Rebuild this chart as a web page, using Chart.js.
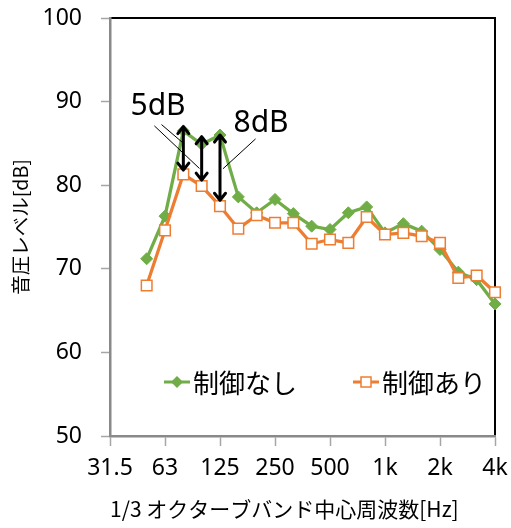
<!DOCTYPE html>
<html>
<head>
<meta charset="utf-8">
<script src="https://cdn.jsdelivr.net/npm/chart.js"></script>
<style>
  html, body { margin: 0; padding: 0; background: #fff; }
</style>
</head>
<body>
<canvas id="myChart" width="511" height="528"></canvas>
<script>
// 1/3 octave bands
const bands = ['31.5', '40', '50', '63', '80', '100', '125', '160', '200', '250', '315',
  '400', '500', '630', '800', '1k', '1.25k', '1.6k', '2k', '2.5k', '3.15k', '4k'];
const tickLabels = ['31.5', '63', '125', '250', '500', '1k', '2k', '4k'];
const yTicks = [50, 60, 70, 80, 90, 100];

// sound pressure level [dB]
const noControl = [null, null, 71.2, 76.3, 86.5, 84.9, 86.0, 78.6, 76.7, 78.3, 76.6,
  75.1, 74.7, 76.7, 77.4, 74.3, 75.4, 74.5, 72.3, 69.6, 68.7, 65.8];
const withControl = [null, null, 68.0, 74.6, 81.3, 79.9, 77.5, 74.8, 76.4, 75.5, 75.5,
  73.0, 73.5, 73.1, 76.2, 74.1, 74.3, 73.9, 73.1, 68.9, 69.2, 67.2];

// arrows between the two curves (band index, top dB, bottom dB)
const arrowIdx = [4, 5, 6];
const arrowTop = [87.0, 85.8, 86.0];
const arrowBottom = [81.8, 80.6, 78.2];

// notes: text, position [band index, dB at baseline]
const noteText = ['5dB', '8dB'];
const noteAt = [[2.62, 88.4], [8.24, 86.4]];
// leader lines [fromIdx, fromDb, toIdx, toDb]
const leaders = [
  [2.42, 87.1, 4.88, 82.0],
  [2.81, 87.25, 3.96, 85.1],
  [7.94, 85.54, 6.16, 81.96]
];

const green = '#70AD47';
const orange = '#ED7D31';

const ctx = document.getElementById('myChart');

// box frame, arrows, notes and legend
const extras = {
  id: 'extras',
  beforeDraw(chart) {
    const c = chart.ctx;
    const a = chart.chartArea;
    c.save();
    c.strokeStyle = '#000';
    c.lineWidth = 2;
    c.beginPath();
    c.moveTo(a.left, a.top);
    c.lineTo(a.right, a.top);
    c.lineTo(a.right, a.bottom);
    c.stroke();
    c.restore();
  },
  afterDatasetsDraw(chart) {
    const c = chart.ctx;
    const x = chart.scales.x;
    const y = chart.scales.y;
    const px = v => x.left + (x.right - x.left) * v / (bands.length - 1);
    c.save();
    // leader lines
    c.strokeStyle = '#000';
    c.lineWidth = 1;
    leaders.forEach(l => {
      c.beginPath();
      c.moveTo(px(l[0]), y.getPixelForValue(l[1]));
      c.lineTo(px(l[2]), y.getPixelForValue(l[3]));
      c.stroke();
    });
    // double arrows
    c.lineWidth = 3;
    c.lineCap = 'round';
    c.lineJoin = 'round';
    for (let i = 0; i < arrowIdx.length; i++) {
      const ax = x.getPixelForValue(arrowIdx[i]);
      const t = y.getPixelForValue(arrowTop[i]);
      const b = y.getPixelForValue(arrowBottom[i]);
      c.beginPath();
      c.moveTo(ax, t + 1);
      c.lineTo(ax, b - 1);
      c.moveTo(ax - 5.5, t + 7);
      c.lineTo(ax, t);
      c.lineTo(ax + 5.5, t + 7);
      c.moveTo(ax - 5.5, b - 7);
      c.lineTo(ax, b);
      c.lineTo(ax + 5.5, b - 7);
      c.stroke();
    }
    // notes
    c.fillStyle = '#000';
    c.font = '30px "Noto Sans"';
    c.textAlign = 'center';
    c.textBaseline = 'alphabetic';
    noteText.forEach((t, i) => {
      c.fillText(t, px(noteAt[i][0]), y.getPixelForValue(noteAt[i][1]));
    });
    c.restore();
  },
  afterDraw(chart) {
    const c = chart.ctx;
    const a = chart.chartArea;
    const ly = a.bottom - 54;
    const items = [
      { x: a.left + 54, ds: chart.data.datasets[0] },
      { x: a.left + 243, ds: chart.data.datasets[1] }
    ];
    c.save();
    c.font = '26px "Noto Sans CJK JP"';
    c.textBaseline = 'middle';
    c.textAlign = 'left';
    items.forEach(it => {
      const ds = it.ds;
      c.strokeStyle = ds.borderColor;
      c.lineWidth = 3;
      c.beginPath();
      c.moveTo(it.x, ly);
      c.lineTo(it.x + 26, ly);
      c.stroke();
      const mx = it.x + 13;
      if (ds.pointStyle === 'rectRot') {
        c.fillStyle = ds.pointBackgroundColor;
        c.beginPath();
        c.moveTo(mx - 6, ly);
        c.lineTo(mx, ly - 6);
        c.lineTo(mx + 6, ly);
        c.lineTo(mx, ly + 6);
        c.closePath();
        c.fill();
      } else {
        c.fillStyle = '#fff';
        c.lineWidth = 1.5;
        c.fillRect(mx - 5, ly - 5, 10, 10);
        c.strokeRect(mx - 5, ly - 5, 10, 10);
      }
      c.fillStyle = '#000';
      c.fillText(ds.label, it.x + 29, ly + 1);
    });
    c.restore();
  }
};

new Chart(ctx, {
  type: 'line',
  data: {
    labels: bands,
    datasets: [{
      label: '制御なし',
      data: noControl,
      borderColor: green,
      backgroundColor: green,
      borderWidth: 3.25,
      pointStyle: 'rectRot',
      pointRadius: 6,
      pointBackgroundColor: green,
      pointBorderColor: green,
      pointBorderWidth: 1,
      tension: 0,
      clip: false,
      order: 1
    }, {
      label: '制御あり',
      data: withControl,
      borderColor: orange,
      backgroundColor: '#fff',
      borderWidth: 3.25,
      pointStyle: 'rect',
      pointRadius: 7.5,
      pointBackgroundColor: '#fff',
      pointBorderColor: orange,
      pointBorderWidth: 1.5,
      tension: 0,
      clip: false,
      order: 0
    }]
  },
  options: {
    responsive: false,
    animation: false,
    layout: {
      padding: { left: 0, top: 18, right: 16, bottom: 0 }
    },
    plugins: {
      legend: { display: false },
      tooltip: { enabled: false }
    },
    scales: {
      x: {
        type: 'category',
        offset: false,
        afterFit: s => {
          s.height = 92;
          s.paddingLeft = 0;
          s.paddingRight = 0;
        },
        grid: {
          drawOnChartArea: false,
          drawTicks: true,
          tickLength: 10,
          tickWidth: 1.5,
          tickColor: c => (tickLabels.includes(bands[c.index]) ? '#a6a6a6' : 'rgba(0,0,0,0)')
        },
        border: { color: '#898989', width: 2.5 },
        ticks: {
          autoSkip: false,
          maxRotation: 0,
          padding: 9,
          color: '#000',
          font: { family: 'Noto Sans', size: 23 },
          callback: (v, i) => (tickLabels.includes(bands[i]) ? bands[i] : '')
        },
        title: {
          display: true,
          text: '1/3 オクターブバンド中心周波数[Hz]',
          align: 'start',
          color: '#000',
          font: { family: 'Noto Sans CJK JP', size: 21 },
          padding: { top: 0, bottom: 6 }
        }
      },
      y: {
        min: 50,
        max: 100,
        afterFit: s => {
          s.width = 110;
          s.paddingTop = 0;
          s.paddingBottom = 0;
        },
        afterBuildTicks: s => { s.ticks = yTicks.map(v => ({ value: v })); },
        grid: {
          drawOnChartArea: false,
          drawTicks: true,
          tickLength: 9,
          tickWidth: 1.5,
          tickColor: '#a6a6a6'
        },
        border: { color: '#898989', width: 2.5 },
        ticks: {
          padding: 19,
          color: '#000',
          font: { family: 'Noto Sans', size: 23 }
        },
        title: {
          display: true,
          text: '音圧レベル[dB]',
          color: '#000',
          font: { family: 'Noto Sans CJK JP', size: 19.5 },
          padding: { top: 9, bottom: 0 }
        }
      }
    }
  },
  plugins: [extras]
});
</script>
</body>
</html>
